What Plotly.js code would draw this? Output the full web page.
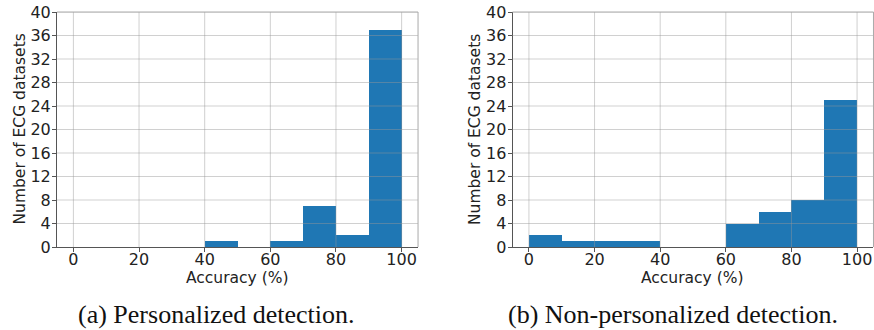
<!DOCTYPE html>
<html>
<head>
<meta charset="utf-8">
<script src="https://cdn.plot.ly/plotly-3.0.1.min.js"></script>
<style>html,body{margin:0;padding:0;background:#fff;}#chart{width:874px;height:330px;}</style>
</head>
<body>
<div id="chart"></div>
<script>
// Histogram bins (accuracy %) and counts
const binCenters = [5, 15, 25, 35, 45, 55, 65, 75, 85, 95];
const binWidth = 10;
const personalizedCounts = [0, 0, 0, 0, 1, 0, 1, 7, 2, 37];
const nonPersonalizedCounts = [2, 1, 1, 1, 0, 0, 4, 6, 8, 25];
const xTicks = [0, 20, 40, 60, 80, 100];
const yTicks = [0, 4, 8, 12, 16, 20, 24, 28, 32, 36, 40];
const xTitle = 'Accuracy (%)';
const yTitle = 'Number of ECG datasets';
const captions = ['(a) Personalized detection.', '(b) Non-personalized detection.'];

const barColor = '#1f77b4';
const gridColor = 'rgba(150,150,150,0.45)';
const tickFont = {family: 'DejaVu Sans', size: 16, color: '#222'};
const titleFont = {family: 'DejaVu Sans', size: 15.5, color: '#222'};
const capFont = {family: 'Liberation Serif', size: 26, color: '#111'};

function bars(counts, xa, ya) {
  return {
    type: 'bar', x: binCenters, y: counts, width: binCenters.map(() => binWidth),
    marker: {color: barColor, line: {width: 0}}, xaxis: xa, yaxis: ya,
    hoverinfo: 'x+y', showlegend: false
  };
}

function xAxis(domain, anchor) {
  return {
    domain: domain, anchor: anchor, range: [-5, 105],
    tickvals: xTicks, ticktext: xTicks.map(String),
    ticks: 'outside', ticklen: 4, tickcolor: '#555', tickwidth: 1,
    ticklabelstandoff: -6,
    showline: true, linecolor: '#555', linewidth: 1,
    showgrid: false, zeroline: false, tickfont: tickFont, automargin: false
  };
}
function yAxis(anchor) {
  return {
    domain: [0.2515, 0.9636], anchor: anchor, range: [0, 40],
    tickvals: yTicks, ticktext: yTicks.map(String),
    ticks: 'outside', ticklen: 4, tickcolor: '#555', tickwidth: 1,
    ticklabelstandoff: -2,
    showline: true, linecolor: '#555', linewidth: 1,
    showgrid: false, zeroline: false, tickfont: tickFont, automargin: false
  };
}

const shapes = [];
[['x', 'y'], ['x2', 'y2']].forEach(([xa, ya]) => {
  yTicks.forEach(v => {
    if (v === 0) return;
    shapes.push({type: 'line', layer: 'above', xref: xa + ' domain', yref: ya,
      x0: 0, x1: 1, y0: v, y1: v, line: {color: gridColor, width: 1}});
  });
  xTicks.forEach(v => {
    shapes.push({type: 'line', layer: 'above', xref: xa, yref: ya + ' domain',
      x0: v, x1: v, y0: 0, y1: 1, line: {color: gridColor, width: 1}});
  });
  shapes.push({type: 'line', layer: 'above', xref: xa + ' domain', yref: ya + ' domain',
    x0: 0, x1: 1, y0: 1, y1: 1, line: {color: '#aaa', width: 1}});
  shapes.push({type: 'line', layer: 'above', xref: xa + ' domain', yref: ya + ' domain',
    x0: 1, x1: 1, y0: 0, y1: 1, line: {color: '#aaa', width: 1}});
});

const H = 330, W = 874;
const annotations = [];
[[0.0652, 0.4783, 20, 216.5], [0.5864, 0.9994, 475.5, 672.5]].forEach(([d0, d1, ytx, capx], i) => {
  annotations.push({text: xTitle, xref: 'paper', yref: 'paper', x: (d0 + d1) / 2, y: 1 - 278 / H,
    xanchor: 'center', yanchor: 'middle', showarrow: false, font: titleFont});
  annotations.push({text: yTitle, xref: 'paper', yref: 'paper', x: ytx / W, y: 1 - 129.5 / H,
    xanchor: 'center', yanchor: 'middle', textangle: -90, showarrow: false, font: titleFont});
  annotations.push({text: captions[i], xref: 'paper', yref: 'paper', x: capx / W, y: 1 - 314 / H,
    xanchor: 'center', yanchor: 'middle', showarrow: false, font: capFont});
});

const layout = {
  width: W, height: H,
  margin: {l: 0, r: 0, t: 0, b: 0},
  paper_bgcolor: '#fff', plot_bgcolor: '#fff',
  bargap: 0,
  xaxis: xAxis([0.0652, 0.4783], 'y'),
  yaxis: yAxis('x'),
  xaxis2: xAxis([0.5864, 0.9994], 'y2'),
  yaxis2: yAxis('x2'),
  shapes: shapes,
  annotations: annotations
};

Plotly.newPlot('chart', [
  bars(personalizedCounts, 'x', 'y'),
  bars(nonPersonalizedCounts, 'x2', 'y2')
], layout, {staticPlot: true, displayModeBar: false});
</script>
</body>
</html>
